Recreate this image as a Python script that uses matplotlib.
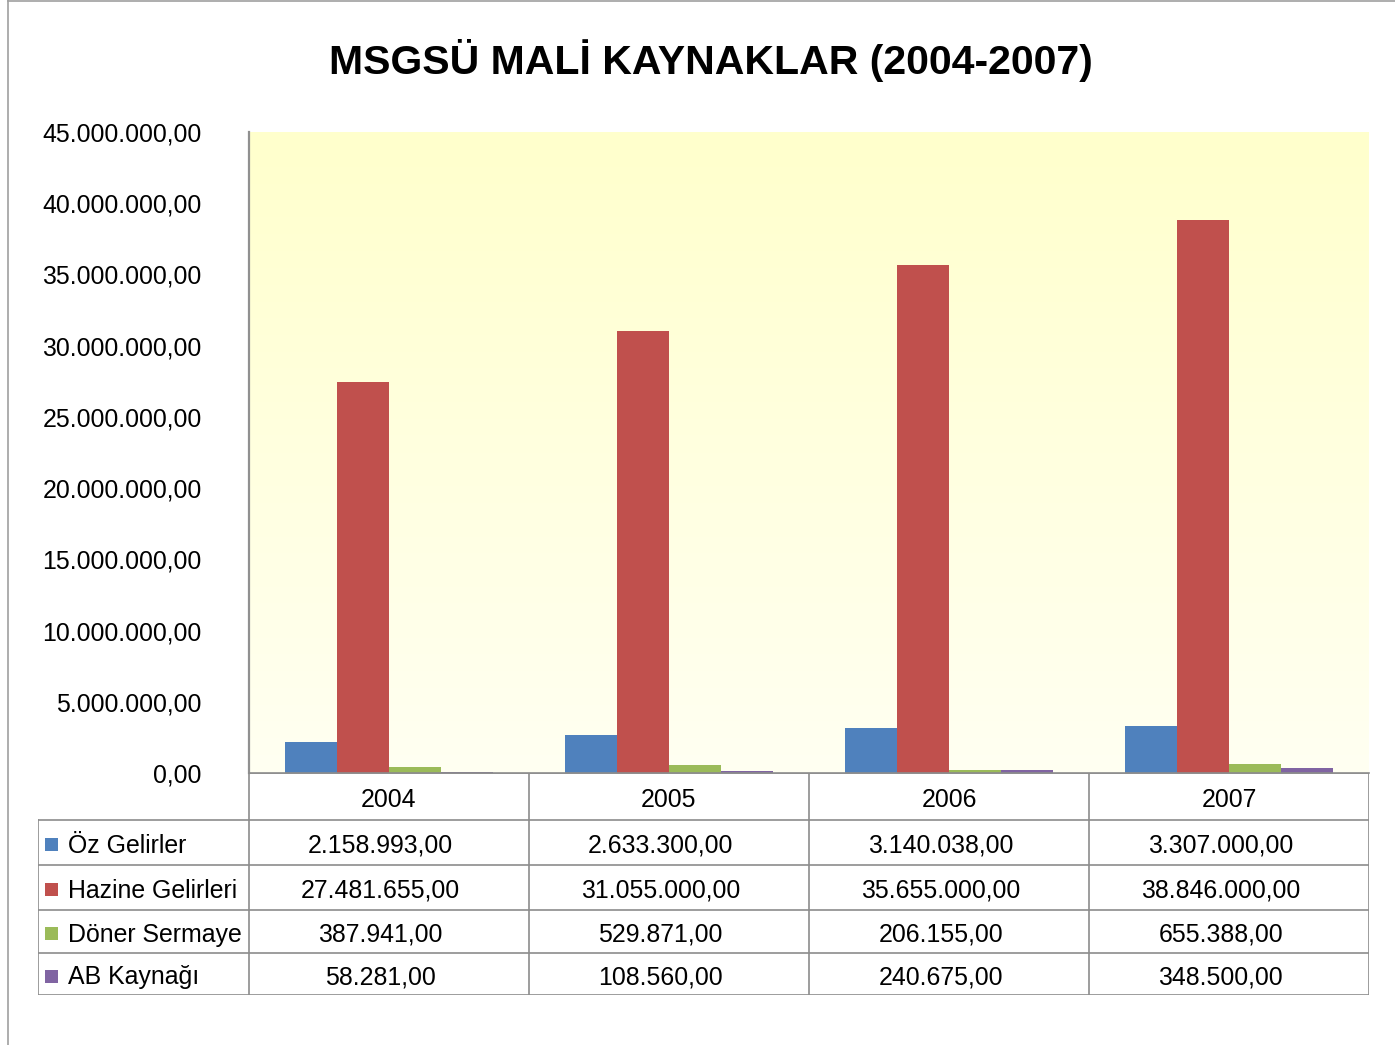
import numpy as np
import matplotlib
matplotlib.use("Agg")
import matplotlib.pyplot as plt
from matplotlib.ticker import FuncFormatter, MultipleLocator
from matplotlib.lines import Line2D
from matplotlib.patches import Rectangle

years = ["2004", "2005", "2006", "2007"]
series_names = ["Öz Gelirler", "Hazine Gelirleri", "Döner Sermaye", "AB Kaynağı"]
oz_gelirler = [2158993.00, 2633300.00, 3140038.00, 3307000.00]
hazine_gelirleri = [27481655.00, 31055000.00, 35655000.00, 38846000.00]
doner_sermaye = [387941.00, 529871.00, 206155.00, 655388.00]
ab_kaynagi = [58281.00, 108560.00, 240675.00, 348500.00]
series_values = [oz_gelirler, hazine_gelirleri, doner_sermaye, ab_kaynagi]
colors = ["#4F81BD", "#C0504D", "#9BBB59", "#8064A2"]
title = "MSGSÜ MALİ KAYNAKLAR (2004-2007)"


def tr_fmt(v):
    s = f"{v:,.2f}"
    return s.replace(",", "X").replace(".", ",").replace("X", ".")


W, H = 1395, 1045
fig = plt.figure(figsize=(W / 100, H / 100), dpi=100)
fig.patch.set_facecolor("white")

FONT = ["Liberation Sans", "DejaVu Sans"]
FS = 17.9
GRID = "#8c8c8c"

def fx(px):
    return px / W

def fy(py):
    return 1 - py / H

# main axes
ax = fig.add_axes([fx(249), fy(773), fx(1369) - fx(249), fy(132) - fy(773)])
ax.set_xlim(-0.5, 3.5)
ax.set_ylim(0, 45_000_000)

# gradient background
grad = np.linspace(0, 1, 256).reshape(-1, 1)
c_top = np.array([255, 255, 204]) / 255
c_bot = np.array([255, 255, 242]) / 255
img = c_bot + (c_top - c_bot) * grad
img = np.repeat(img[:, None, :], 2, axis=1)
ax.imshow(img, extent=[-0.5, 3.5, 0, 45_000_000], origin="lower", aspect="auto", zorder=0)

x = np.arange(len(years))
bw = 0.185
for i, (vals, col) in enumerate(zip(series_values, colors)):
    ax.bar(x + (i - 1.5) * bw, vals, width=bw, color=col, zorder=2)

ax.yaxis.set_major_locator(MultipleLocator(5_000_000))
ax.yaxis.set_major_formatter(FuncFormatter(lambda v, p: tr_fmt(v)))
ax.tick_params(axis="y", length=0, pad=34, labelsize=FS)
for lab in ax.get_yticklabels():
    lab.set_family(FONT)
ax.set_xticks([])
for s in ["top", "right"]:
    ax.spines[s].set_visible(False)
ax.spines["left"].set_color("#909090")
ax.spines["left"].set_linewidth(1.6)
ax.spines["bottom"].set_color(GRID)
ax.spines["bottom"].set_linewidth(1.2)

# data table axes (vertical units: row boundaries)
row_edges = [773, 820, 865, 910, 953, 995]
label_w = (249 - 38) / 280.0
tax = fig.add_axes([fx(38), fy(995), fx(1369) - fx(38), fy(773) - fy(995)])
tax.set_xlim(-0.5 - label_w, 3.5)
tax.set_ylim(995, 773)
tax.axis("off")

xl = -0.5 - label_w
tax.add_line(Line2D([-0.5, 3.5], [773, 773], color=GRID, lw=1.2))
for yv in row_edges[1:]:
    tax.add_line(Line2D([xl, 3.5], [yv, yv], color=GRID, lw=1.2))
tax.add_line(Line2D([xl, xl], [820, 995], color=GRID, lw=1.2))
for xv in [-0.5, 0.5, 1.5, 2.5, 3.5]:
    tax.add_line(Line2D([xv, xv], [773, 995], color=GRID, lw=1.2))

centers = [(a + b) / 2 for a, b in zip(row_edges[:-1], row_edges[1:])]
for j, yr in enumerate(years):
    tax.text(j, centers[0] + 1, yr, ha="center", va="center_baseline", fontsize=FS, family=FONT)

sq_w = 13 / 280.0
for i, (name, vals, col) in enumerate(zip(series_names, series_values, colors)):
    yc = centers[i + 1]
    tax.add_patch(Rectangle((xl + 7 / 280.0, yc - 6 + 2), sq_w, 13, color=col, lw=0))
    tax.text(xl + 30 / 280.0, yc + 1, name, ha="left", va="center_baseline", fontsize=FS, family=FONT)
    for j, v in enumerate(vals):
        tax.text(j - 0.03, yc + 1, tr_fmt(v), ha="center", va="center_baseline", fontsize=FS, family=FONT)

# title
fig.text(fx(711), fy(60), title, ha="center", va="center", fontsize=29.5,
         fontweight="bold", family=FONT)

# outer border
fig.add_artist(Line2D([fx(7.5), fx(7.5)], [0, 1], color="#a0a0a0", lw=1.2, transform=fig.transFigure))
fig.add_artist(Line2D([fx(7.5), 1], [fy(0.8), fy(0.8)], color="#a0a0a0", lw=1.2, transform=fig.transFigure))

fig.savefig("out.png", dpi=100)
